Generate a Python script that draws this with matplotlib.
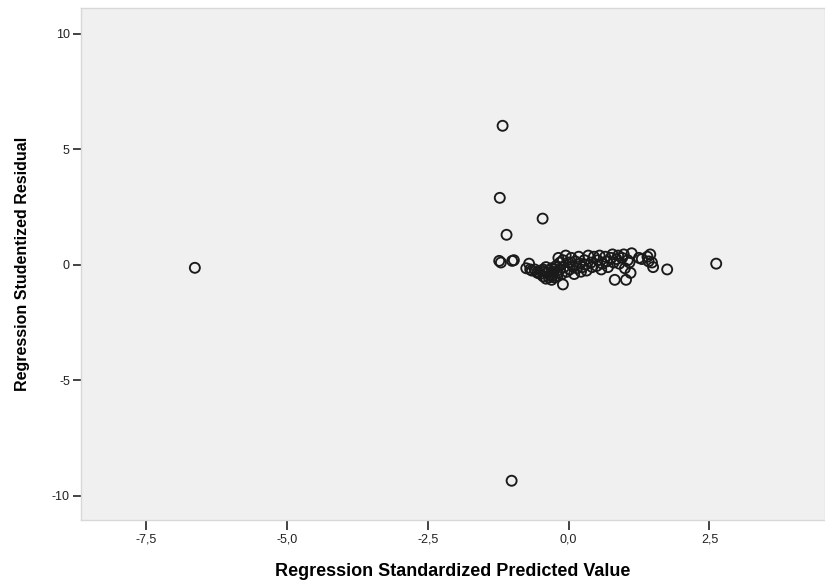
import matplotlib
matplotlib.use("Agg")
import matplotlib.pyplot as plt
from matplotlib.ticker import FuncFormatter

# Standardized predicted values (x) and studentized residuals (y)
pred = [
    -6.63, 2.62,
    -1.17, -1.22, -0.46, -1.10, -1.01,
    -1.23, -1.20, -1.00, -0.97,
    -0.70, -0.75, -0.65, -0.68, -0.60, -0.55,
    -0.45, -0.42, -0.40, -0.38, -0.35, -0.33, -0.30, -0.30, -0.28, -0.25,
    -0.25, -0.22, -0.20, -0.18, -0.15, -0.15, -0.12, -0.10, -0.10, -0.08,
    -0.05, -0.03, 0.00, 0.02, 0.05, 0.07, 0.10, 0.12, 0.15, 0.18,
    0.20, 0.22, 0.25, 0.28, 0.30, 0.32, 0.35, 0.40, 0.42, 0.45,
    0.50, 0.52, 0.55, 0.58, 0.60, 0.65, 0.68, 0.70, 0.75, 0.78,
    0.80, 0.82, 0.85, 0.88, 0.90, 0.95, 0.98, 1.00, 1.02, 1.05,
    1.08, 1.10, 1.12, 1.25, 1.30, 1.40, 1.42, 1.45, 1.48, 1.50, 1.75,
    -0.50, -0.45, -0.40, -0.35, -0.30, -0.20, -0.55, -0.48,
]
resid = [
    -0.13, 0.05,
    6.02, 2.90, 2.00, 1.30, -9.35,
    0.17, 0.10, 0.17, 0.20,
    0.05, -0.15, -0.25, -0.20, -0.20, -0.30,
    -0.20, -0.30, -0.10, -0.35, -0.25, -0.45, -0.15, -0.50, -0.30, -0.20,
    -0.55, -0.05, -0.35, 0.30, -0.20, 0.10, -0.40, -0.85, 0.20, -0.10,
    0.40, -0.30, 0.10, -0.20, 0.30, -0.05, -0.40, 0.15, -0.15, 0.35,
    0.05, -0.30, -0.10, 0.20, 0.00, -0.25, 0.40, 0.10, -0.10, 0.35,
    -0.05, 0.20, 0.40, -0.20, 0.05, 0.35, 0.15, -0.10, 0.30, 0.45,
    0.10, -0.65, 0.25, 0.40, 0.05, 0.30, 0.45, -0.15, -0.65, 0.20,
    0.10, -0.35, 0.50, 0.30, 0.25, 0.35, 0.15, 0.45, 0.10, -0.10, -0.20,
    -0.40, -0.50, -0.60, -0.55, -0.65, -0.50, -0.35, -0.25,
]

x_ticks = [-7.5, -5.0, -2.5, 0.0, 2.5]
y_ticks = [-10, -5, 0, 5, 10]

label_font = ["Liberation Sans Narrow", "Liberation Sans", "DejaVu Sans"]

fig = plt.figure(figsize=(8.25, 5.87), dpi=100)
ax = fig.add_axes([81 / 825, 1 - 520 / 587, 1 - 81 / 825, (520 - 8) / 587])
ax.set_facecolor("#f0f0f0")

ax.scatter(pred, resid, s=52, facecolors="none", edgecolors="#1a1a1a",
           linewidths=1.35, zorder=3)

ax.set_xlim(-8.65, 4.55)
ax.set_ylim(-11.05, 11.12)

ax.set_xticks(x_ticks)
ax.set_yticks(y_ticks)
ax.xaxis.set_major_formatter(FuncFormatter(lambda v, p: f"{v:.1f}".replace(".", ",")))
ax.yaxis.set_major_formatter(FuncFormatter(lambda v, p: f"{v:.0f}"))
ax.tick_params(axis="x", direction="out", length=7, width=1.2, colors="#222222",
               labelsize=9, pad=3)
ax.tick_params(axis="y", direction="out", length=6, width=1.2, colors="#222222",
               labelsize=9, pad=2)
for lbl in ax.get_xticklabels() + ax.get_yticklabels():
    lbl.set_family(label_font)

for side, sp in ax.spines.items():
    sp.set_color("#d8d8d8")
    sp.set_linewidth(1.0)

ax.set_xlabel("Regression Standardized Predicted Value", fontsize=13,
              fontweight="bold", family=label_font, labelpad=12)
ax.set_ylabel("Regression Studentized Residual", fontsize=11.5,
              fontweight="bold", family=label_font, labelpad=16)

fig.savefig("out.png", dpi=100, facecolor="white")
